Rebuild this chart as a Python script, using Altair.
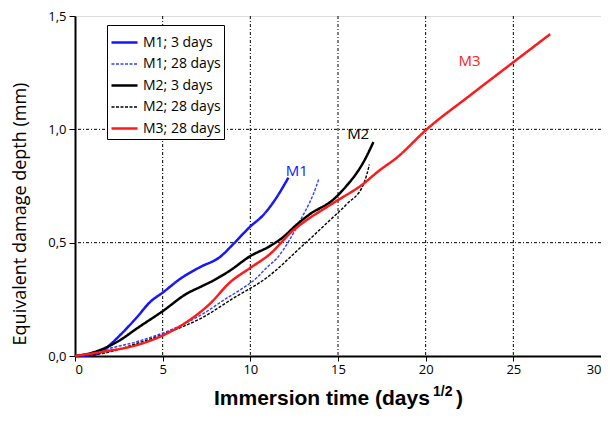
import altair as alt
import pandas as pd

series_names = ["M1; 3 days", "M1; 28 days", "M2; 3 days", "M2; 28 days", "M3; 28 days"]

m1_3_x = [0, 0.8, 1.43, 2.0, 2.57, 3.52, 4.28, 5.04, 5.99, 7.13, 8.27, 9.03, 9.98, 10.74, 11.5, 12.17]
m1_3_y = [0, 0.003, 0.015, 0.05, 0.092, 0.17, 0.238, 0.282, 0.34, 0.392, 0.437, 0.494, 0.57, 0.622, 0.70, 0.787]

m1_28_x = [0, 0.8, 1.62, 3.52, 5.42, 7.32, 8.65, 9.22, 10.36, 10.93, 11.5, 12.26, 12.83, 13.4, 13.59, 13.9]
m1_28_y = [0, 0.005, 0.026, 0.063, 0.114, 0.187, 0.255, 0.282, 0.345, 0.39, 0.43, 0.515, 0.596, 0.68, 0.713, 0.78]

m2_3_x = [0, 0.86, 2.57, 3.52, 5.04, 6.37, 7.13, 7.89, 8.84, 9.98, 11.12, 11.88, 12.65, 13.4, 14.73, 15.5, 16.07, 16.45, 17.02]
m2_3_y = [0, 0.012, 0.07, 0.121, 0.20, 0.275, 0.304, 0.333, 0.377, 0.44, 0.485, 0.525, 0.58, 0.626, 0.69, 0.752, 0.808, 0.855, 0.944]

m2_28_x = [0, 1.62, 3.52, 5.42, 7.32, 9.03, 10.93, 12.83, 14.55, 15.5, 16.45, 16.64, 16.79]
m2_28_y = [0, 0.012, 0.055, 0.107, 0.172, 0.255, 0.345, 0.476, 0.60, 0.67, 0.757, 0.80, 0.845]

m3_28_x = [0, 1.62, 3.52, 5.04, 6.37, 7.70, 8.84, 9.98, 11.12, 12.45, 13.02, 14.73, 16.45, 17.3, 18.35, 20.06, 22.5, 25.0, 27.1]
m3_28_y = [0, 0.019, 0.048, 0.092, 0.15, 0.231, 0.325, 0.388, 0.45, 0.555, 0.589, 0.675, 0.76, 0.815, 0.875, 1.0, 1.148, 1.296, 1.42]

label_text = ["M1", "M2", "M3"]
label_x = [12.65, 16.15, 22.5]
label_y = [0.815, 0.98, 1.30]
label_color = ["#1515ff", "#000000", "#ff1a1a"]

colors = ["#1515ff", "#3040ff", "#000000", "#000000", "#ff1a1a"]
dashes = [[1, 0], [3, 1.5], [1, 0], [3, 1.5], [1, 0]]
widths = [2.5, 1.4, 2.5, 1.4, 2.5]

rows = []
for name, xs, ys in zip(series_names,
                        [m1_3_x, m1_28_x, m2_3_x, m2_28_x, m3_28_x],
                        [m1_3_y, m1_28_y, m2_3_y, m2_28_y, m3_28_y]):
    for a, b in zip(xs, ys):
        rows.append({"series": name, "x": a, "y": b})
df = pd.DataFrame(rows)

labels_df = pd.DataFrame({"t": label_text, "x": label_x, "y": label_y, "c": label_color})

W, H = 526, 340

xscale = alt.Scale(domain=[0, 30], nice=False)
yscale = alt.Scale(domain=[0, 1.5], nice=False)

x_axis = alt.Axis(values=[0, 5, 10, 15, 20, 25, 30], title=None, grid=False,
                  labelFont="Open Sans", labelFontSize=13, labelColor="black",
                  tickColor="black", tickSize=5, domainColor="black", domainWidth=2,
                  labelPadding=2)
y_axis = alt.Axis(values=[0, 0.5, 1.0, 1.5], title=None, grid=False,
                  labelExpr="replace(format(datum.value, '.1f'), '.', ',')",
                  labelFont="Open Sans", labelFontSize=13, labelColor="black",
                  tickColor="black", tickSize=6, domainColor="black", domainWidth=2,
                  labelPadding=3)

grid_x = alt.Chart(pd.DataFrame({"g": [5, 10, 15, 20, 25]})).mark_rule(
    color="black", strokeWidth=1, strokeDash=[3, 2, 1, 2]
).encode(x=alt.X("g:Q", scale=xscale, axis=x_axis))

grid_y = alt.Chart(pd.DataFrame({"g": [0.5, 1.0]})).mark_rule(
    color="black", strokeWidth=1, strokeDash=[3, 2, 1, 2]
).encode(y=alt.Y("g:Q", scale=yscale, axis=y_axis))

lines = alt.Chart(df).mark_line(strokeJoin="round", strokeCap="butt", interpolate="monotone").encode(
    x=alt.X("x:Q", scale=xscale, axis=x_axis),
    y=alt.Y("y:Q", scale=yscale, axis=y_axis),
    color=alt.Color("series:N", scale=alt.Scale(domain=series_names, range=colors),
                    legend=alt.Legend(orient="none", legendX=32, legendY=9, title=None,
                                      strokeColor="black", fillColor="white", padding=3,
                                      labelFont="Open Sans", labelFontSize=14, labelColor="black",
                                      symbolType="stroke", symbolSize=676, rowPadding=-4,
                                      labelOffset=4)),
    strokeDash=alt.StrokeDash("series:N", scale=alt.Scale(type="ordinal", domain=series_names, range=dashes)),
    strokeWidth=alt.StrokeWidth("series:N", scale=alt.Scale(type="ordinal", domain=series_names, range=widths)),
)

curve_labels = alt.Chart(labels_df).mark_text(font="Open Sans", fontSize=15).encode(
    x=alt.X("x:Q", scale=xscale),
    y=alt.Y("y:Q", scale=yscale),
    text="t:N",
    color=alt.Color("c:N", scale=None),
)

ytitle = alt.Chart(pd.DataFrame({"t": ["Equivalent damage depth (mm)"]})).mark_text(
    font="Open Sans", fontSize=18, angle=270, align="center", baseline="middle", color="black"
).encode(text="t:N", x=alt.value(-54), y=alt.value(198))

xtitle_main = alt.Chart(pd.DataFrame({"t": ["Immersion time (days"]})).mark_text(
    font="Liberation Sans", fontSize=21, fontWeight="bold", align="left",
    baseline="alphabetic", color="black"
).encode(text="t:N", x=alt.value(139), y=alt.value(389))

xtitle_sup = alt.Chart(pd.DataFrame({"t": ["1/2"]})).mark_text(
    font="Liberation Sans", fontSize=14, fontWeight="bold", align="left",
    baseline="alphabetic", color="black"
).encode(text="t:N", x=alt.value(358), y=alt.value(380))

xtitle_end = alt.Chart(pd.DataFrame({"t": [")"]})).mark_text(
    font="Liberation Sans", fontSize=21, fontWeight="bold", align="left",
    baseline="alphabetic", color="black"
).encode(text="t:N", x=alt.value(381), y=alt.value(389))

chart = alt.layer(grid_x, grid_y, lines, curve_labels, ytitle, xtitle_main, xtitle_sup, xtitle_end).properties(
    width=W, height=H,
    autosize=alt.AutoSizeParams(type="none"),
    padding={"left": 67, "top": 8, "right": 0, "bottom": 55},
).configure_view(stroke="#333333", strokeWidth=1.5).configure(background="white")

chart.save("out.html", embed_options={"renderer": "svg", "actions": False})
